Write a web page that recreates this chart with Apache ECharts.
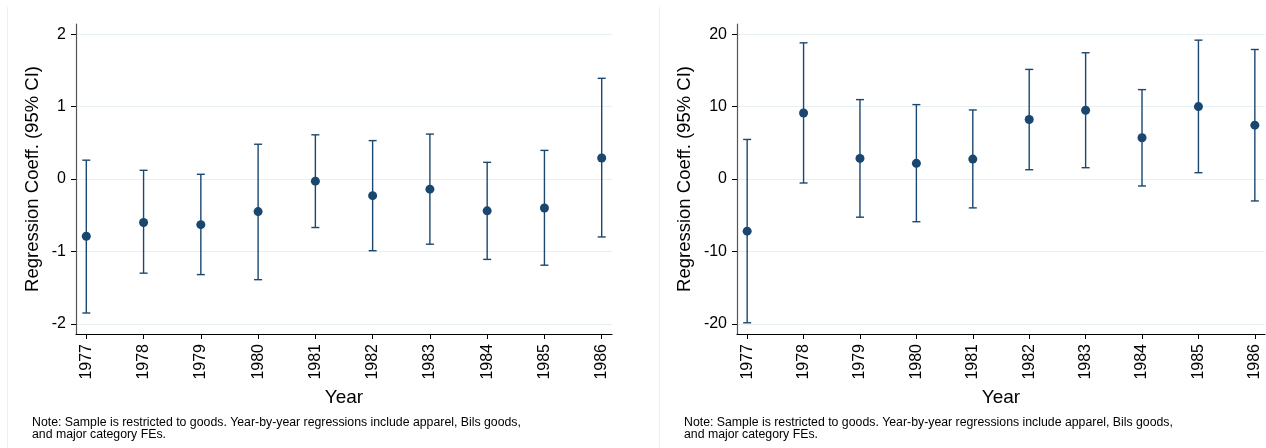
<!DOCTYPE html>
<html>
<head>
<meta charset="utf-8">
<script src="https://cdn.jsdelivr.net/npm/echarts@6/dist/echarts.min.js"></script>
<style>
html,body{margin:0;padding:0;background:#fff;}
#c{width:1266px;height:448px;}
</style>
</head>
<body>
<div id="c"></div>
<script>
const years = [1977, 1978, 1979, 1980, 1981, 1982, 1983, 1984, 1985, 1986];
const leftCoef = [-0.79, -0.60, -0.63, -0.45, -0.03, -0.23, -0.14, -0.44, -0.40, 0.29];
const leftLo   = [-1.85, -1.30, -1.32, -1.39, -0.67, -0.99, -0.90, -1.11, -1.19, -0.80];
const leftHi   = [0.26, 0.12, 0.065, 0.48, 0.61, 0.53, 0.62, 0.23, 0.395, 1.39];
const rightCoef = [-7.2, 9.12, 2.84, 2.16, 2.75, 8.21, 9.49, 5.69, 10.0, 7.43];
const rightLo   = [-19.85, -0.55, -5.27, -5.9, -3.99, 1.28, 1.56, -0.96, 0.87, -3.03];
const rightHi   = [5.46, 18.8, 10.96, 10.27, 9.53, 15.13, 17.43, 12.34, 19.17, 17.88];
const leftTicks = [-2, -1, 0, 1, 2];
const rightTicks = [-20, -10, 0, 10, 20];
const yTitle = 'Regression Coeff. (95% CI)';
const xTitle = 'Year';
const noteText = 'Note: Sample is restricted to goods. Year-by-year regressions include apparel, Bils goods,\nand major category FEs.';

const FONT = "'Liberation Sans', Arial, sans-serif";
const NAVY = '#1a476f';
const GRID_C = '#e9f0f2';

function xAxisCfg(idx) {
  return {
    type: 'value', gridIndex: idx, min: 1976.82, max: 1986.18,
    name: xTitle, nameLocation: 'middle', nameGap: 54,
    nameTextStyle: {fontFamily: FONT, fontSize: 19, color: '#000'},
    axisLine: {show: true, onZero: false, lineStyle: {color: '#000', width: 1.2}},
    axisTick: {show: true, length: 5, customValues: years, lineStyle: {color: '#000'}},
    axisLabel: {customValues: years, rotate: 90, margin: 10, fontFamily: FONT, fontSize: 16, color: '#000',
      formatter: v => String(v)},
    splitLine: {show: false}
  };
}
function yAxisCfg(idx, lim, ticks, gap) {
  return {
    type: 'value', gridIndex: idx, min: -lim, max: lim,
    name: yTitle, nameLocation: 'middle', nameGap: gap, nameRotate: 90,
    nameTextStyle: {fontFamily: FONT, fontSize: 18.5, color: '#000'},
    axisLine: {show: true, onZero: false, lineStyle: {color: '#555', width: 1.2}},
    axisTick: {show: true, length: 5, customValues: ticks, lineStyle: {color: '#000'}},
    axisLabel: {customValues: ticks, margin: 10, fontFamily: FONT, fontSize: 16, color: '#000',
      formatter: v => String(v)},
    splitLine: {show: true, lineStyle: {color: GRID_C, width: 1.2}}
  };
}
function errSeries(idx, lo, hi) {
  return {
    type: 'custom', xAxisIndex: idx, yAxisIndex: idx, z: 3,
    data: years.map((y, i) => [y, lo[i], hi[i]]),
    renderItem: function (params, api) {
      const pHi = api.coord([api.value(0), api.value(2)]);
      const pLo = api.coord([api.value(0), api.value(1)]);
      const hw = 4;
      const st = {stroke: NAVY, lineWidth: 1.4};
      return {type: 'group', children: [
        {type: 'line', shape: {x1: pHi[0], y1: pHi[1], x2: pLo[0], y2: pLo[1]}, style: st},
        {type: 'line', shape: {x1: pHi[0] - hw, y1: pHi[1], x2: pHi[0] + hw, y2: pHi[1]}, style: st},
        {type: 'line', shape: {x1: pLo[0] - hw, y1: pLo[1], x2: pLo[0] + hw, y2: pLo[1]}, style: st}
      ]};
    }
  };
}
function ptSeries(idx, coef) {
  return {
    type: 'scatter', xAxisIndex: idx, yAxisIndex: idx, z: 4,
    symbol: 'circle', symbolSize: 9,
    itemStyle: {color: NAVY, opacity: 1},
    data: years.map((y, i) => [y, coef[i]])
  };
}

const chart = echarts.init(document.getElementById('c'), null, {renderer: 'canvas'});
chart.setOption({
  animation: false,
  backgroundColor: '#fff',
  title: [
    {text: noteText, left: 27, top: 411, textStyle: {fontFamily: FONT, fontSize: 12.3, fontWeight: 'normal', color: '#000', lineHeight: 12.7}},
    {text: noteText, left: 679, top: 411, textStyle: {fontFamily: FONT, fontSize: 12.3, fontWeight: 'normal', color: '#000', lineHeight: 12.7}}
  ],
  graphic: [
    {type: 'line', shape: {x1: 7.5, y1: 7, x2: 7.5, y2: 448}, style: {stroke: '#eeeeee', lineWidth: 1}, silent: true},
    {type: 'line', shape: {x1: 659.5, y1: 7, x2: 659.5, y2: 448}, style: {stroke: '#eeeeee', lineWidth: 1}, silent: true}
  ],
  grid: [
    {left: 76, top: 24, width: 536, height: 310},
    {left: 737, top: 24, width: 528, height: 310}
  ],
  xAxis: [xAxisCfg(0), xAxisCfg(1)],
  yAxis: [yAxisCfg(0, 2.14, leftTicks, 34), yAxisCfg(1, 21.4, rightTicks, 43)],
  series: [
    errSeries(0, leftLo, leftHi), ptSeries(0, leftCoef),
    errSeries(1, rightLo, rightHi), ptSeries(1, rightCoef)
  ]
});
</script>
</body>
</html>
